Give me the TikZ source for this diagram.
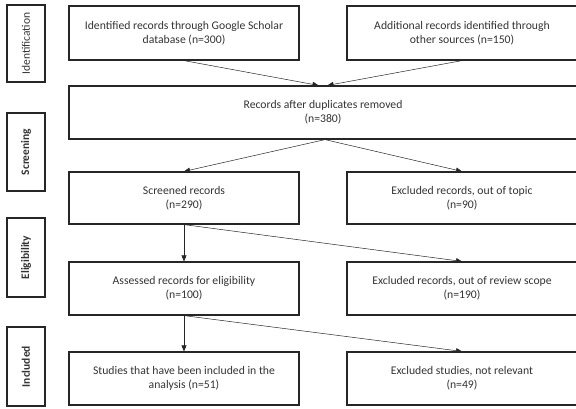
\documentclass[tikz,border=0pt]{standalone}
\usepackage{fontspec}
\setmainfont{Carlito}
\usetikzlibrary{arrows.meta}
\tikzset{
  stage/.style={draw=black!85, line width=1.2pt, minimum width=230pt, minimum height=53pt, align=center, text=black!80, font=\fontsize{11.7}{14}\selectfont, inner sep=0pt},
  phase/.style={draw=black!85, line width=1.2pt, minimum width=38pt, rotate=90, text=black!80, font=\fontsize{11.5}{12}\selectfont, inner sep=0pt},
  flow/.style={-{Triangle[length=6pt,width=5pt]}, line width=0.5pt, black!85}
}
\begin{document}
\begin{tikzpicture}[x=1pt, y=-1pt]
  \useasboundingbox (0,0) rectangle (576,408);
  \clip (0,0) rectangle (576,408);
  % phase labels
  \node[phase, minimum height=38pt, minimum width=77pt] (pid) at (26,43.5) {Identification};
  \node[phase, minimum height=38pt, minimum width=78pt] (pscr) at (26,152) {\bfseries Screening};
  \node[phase, minimum height=38pt, minimum width=79pt] (pelig) at (26,257.5) {\bfseries Eligibility};
  \node[phase, minimum height=38pt, minimum width=79pt] (pinc) at (26,366.5) {\bfseries Included};
  % boxes
  \node[stage, minimum height=54pt] (scholar) at (184,33) {Identified records through Google Scholar\\database (n=300)};
  \node[stage, minimum height=54pt] (other) at (462,33) {Additional records identified through\\other sources (n=150)};
  \node[stage, minimum width=508pt] (dedup) at (323,112.5) {Records after duplicates removed\\(n=380)};
  \node[stage, minimum height=52pt] (screened) at (184,198) {Screened records\\(n=290)};
  \node[stage, minimum height=52pt] (topic) at (462,198) {Excluded records, out of topic\\(n=90)};
  \node[stage] (assessed) at (184,288.5) {Assessed records for eligibility\\(n=100)};
  \node[stage] (scope) at (462,288.5) {Excluded records, out of review scope\\(n=190)};
  \node[stage] (studies) at (184,378.5) {Studies that have been included in the\\analysis (n=51)};
  \node[stage] (relevant) at (462,378.5) {Excluded studies, not relevant\\(n=49)};
  % arrows
  \draw[flow] (scholar.south) -- ([xshift=-4.5pt]dedup.north);
  \draw[flow] (other.south) -- ([xshift=4.5pt]dedup.north);
  \draw[flow] ([xshift=2pt]dedup.south) -- (screened.north);
  \draw[flow] ([xshift=2pt]dedup.south) -- (topic.north);
  \draw[flow] (screened.south) -- (assessed.north);
  \draw[flow] (screened.south) -- (scope.north);
  \draw[flow] (assessed.south) -- (studies.north);
  \draw[flow] (assessed.south) -- (relevant.north);
\end{tikzpicture}
\end{document}
